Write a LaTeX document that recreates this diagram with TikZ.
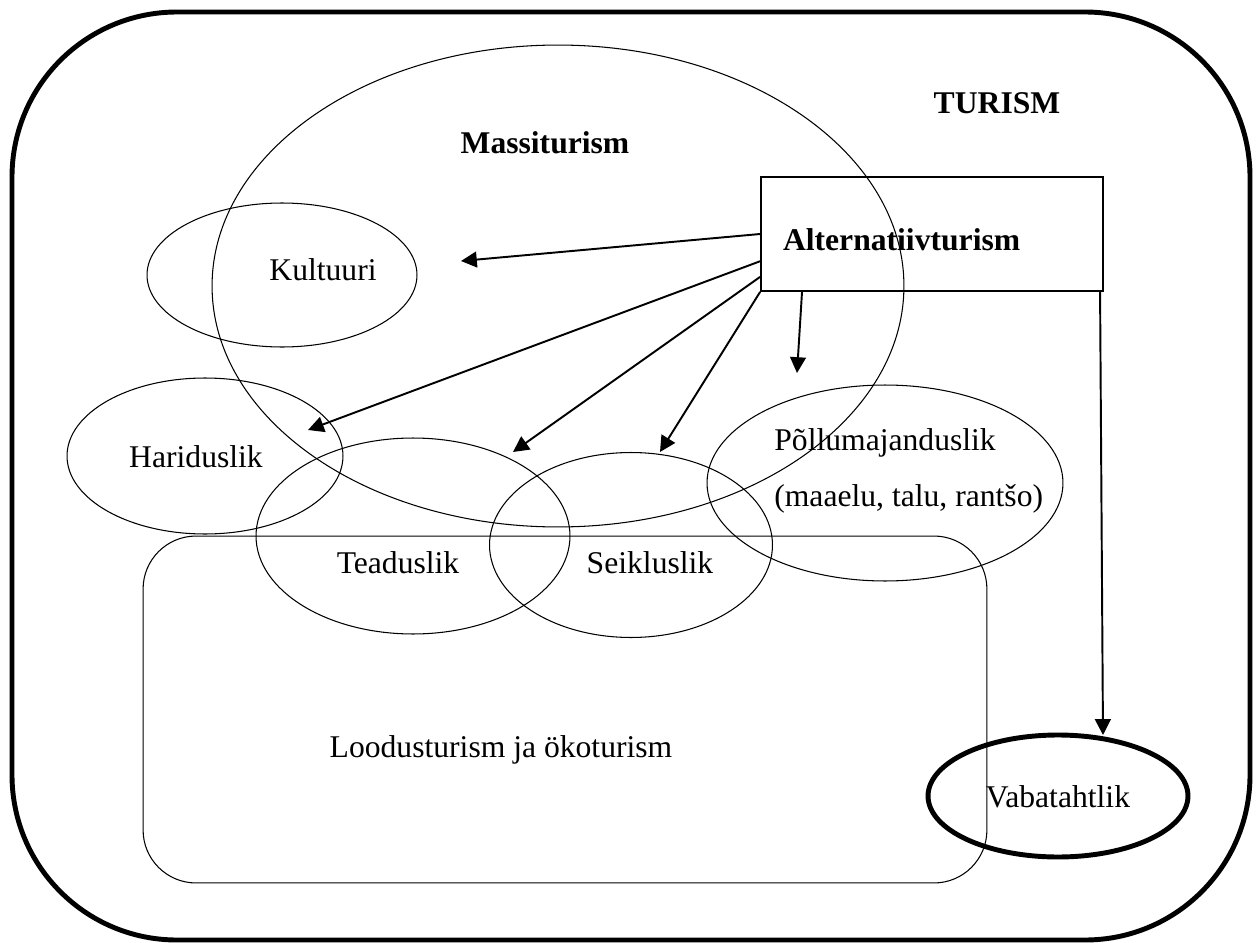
\documentclass[tikz,border=0pt]{standalone}
\usepackage{fontspec}
\setmainfont{Liberation Serif}
\usetikzlibrary{arrows.meta, shapes.geometric}

\tikzset{
  oval/.style={draw, ellipse, line width=0.6pt, inner sep=0pt},
  lbl/.style={font=\fontsize{18}{21}\selectfont, inner sep=0pt},
  blbl/.style={font=\fontsize{18}{21}\selectfont\bfseries, inner sep=0pt},
  pil/.style={line width=1.1pt, -{Triangle[length=9pt,width=9pt]}}
}

\begin{document}
\begin{tikzpicture}[x=0.02cm, y=-0.02cm]
%	\draw[help lines] (0,0) grid[step=100] (1259,943);
	\useasboundingbox (0,0) rectangle (1259,943);

	% frame
	\draw[line width=2.8pt, rounded corners=3.3cm] (12,12) rectangle (1250,940);
	\node[blbl] (turism) at (997,103) {TURISM};

	% massiturism
	\node[oval, minimum width=13.84cm, minimum height=9.64cm] (massi) at (558,286) {};
	\node[blbl] (massilbl) at (545,143) {Massiturism};

	% ovals
	\node[oval, minimum width=5.4cm, minimum height=2.88cm] (kult) at (282,275) {};
	\node[lbl] (kultlbl) at (323,270) {Kultuuri};

	\node[oval, minimum width=5.52cm, minimum height=3.12cm] (hari) at (205,456) {};
	\node[lbl] (harilbl) at (196,457) {Hariduslik};

	\node[oval, minimum width=6.28cm, minimum height=3.92cm] (tead) at (413,536) {};
	\node[lbl] (teadlbl) at (398,563) {Teaduslik};

	\node[oval, minimum width=5.66cm, minimum height=3.7cm] (seik) at (631,545) {};
	\node[lbl] (seiklbl) at (650,563) {Seikluslik};

	\node[oval, minimum width=7.12cm, minimum height=3.92cm] (pollu) at (885,483) {};
	\node[lbl, font=\fontsize{18}{32}\selectfont, align=left, anchor=west] (pollulbl) at (774,471)
		{Põllumajanduslik\\(maaelu, talu, rantšo)};

	% loodus
	\node[draw, line width=0.6pt, rounded corners=1.06cm, minimum width=16.88cm, minimum height=6.94cm] (lood) at (565,709.5) {};
	\node[lbl] (loodlbl) at (501,750) {Loodusturism ja ökoturism};

	\node[oval, line width=2.8pt, minimum width=5.2cm, minimum height=2.44cm] (vaba) at (1058,796) {};
	\node[lbl] (vabalbl) at (1058,797) {Vabatahtlik};

	% alternatiiv
	\node[blbl, draw, line width=1pt, minimum width=6.84cm, minimum height=2.28cm,
		text width=5.96cm, text height=19pt, text depth=0pt, inner xsep=0.44cm, align=left] (alt) at (932,234) {Alternatiivturism};

	\coordinate (ktip) at (461,261);
	\coordinate (htip) at (308,430);
	\coordinate (ttip) at (513,452);
	\coordinate (stip) at (660,452);
	\coordinate (ptip) at (797,373);
	\coordinate (vtip) at (1103,735);

	\draw[pil] (alt.west) -- (ktip);
	\draw[pil] (alt.189) -- (htip);
	\draw[pil] (alt.194) -- (ttip);
	\draw[pil] (alt.south west) -- (stip);
	\draw[pil] (alt.204) -- (ptip);
	\draw[pil] (alt.341) -- (vtip);

\end{tikzpicture}
\end{document}
